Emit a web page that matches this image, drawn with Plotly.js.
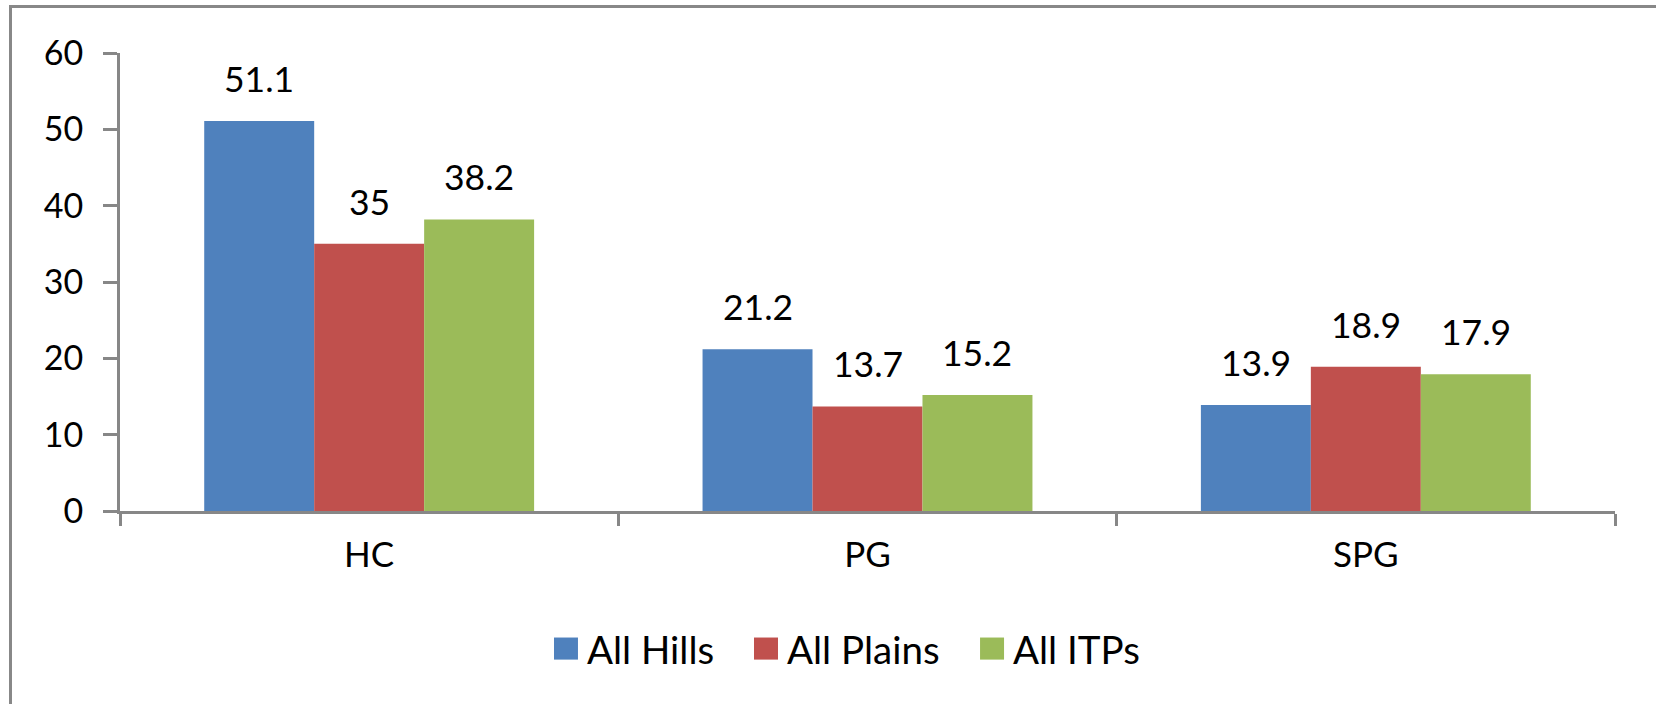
<!DOCTYPE html>
<html>
<head>
<meta charset="utf-8">
<script src="https://cdn.plot.ly/plotly-3.0.1.min.js"></script>
<style>
  html, body { margin: 0; padding: 0; background: #ffffff; overflow: hidden; }
  #wrap { position: relative; width: 1656px; height: 704px; }
  #chart { position: absolute; left: 0; top: 0; width: 1656px; height: 704px; }
  #frame { position: absolute; left: 9px; top: 5px; width: 1700px; height: 760px;
           border-left: 3px solid #888888; border-top: 3px solid #888888; pointer-events: none; }
</style>
</head>
<body>
<div id="wrap">
  <div id="chart"></div>
  <div id="frame"></div>
</div>
<script>
const categories = ["HC", "PG", "SPG"];
const seriesNames = ["All Hills", "All Plains", "All ITPs"];
const allHills = [51.1, 21.2, 13.9];
const allPlains = [35, 13.7, 18.9];
const allITPs = [38.2, 15.2, 17.9];
const yTicks = [0, 10, 20, 30, 40, 50, 60];

const colors = ["#4F81BD", "#C0504D", "#9BBB59"];
const seriesValues = [allHills, allPlains, allITPs];

const W = 1656, H = 704;
const margin = { l: 120, r: 41, t: 53, b: 193, pad: 0 };
const bargap = 0.338;
const plotW = W - margin.l - margin.r;
const barPx = plotW / categories.length * (1 - bargap) / seriesValues.length;

const FONT = "Lato, 'Open Sans', sans-serif";
const legendIds = ["legend", "legend2", "legend3"];
const legendX = [0.2856, 0.4194, 0.5706];

const traces = seriesValues.map((vals, i) => ({
  type: "bar",
  name: seriesNames[i],
  legend: legendIds[i],
  x: categories,
  y: vals,
  marker: { color: colors[i], line: { width: 0 } },
  hoverinfo: "none"
}));

const annotations = [];
seriesValues.forEach((vals, i) => {
  vals.forEach((v, j) => {
    annotations.push({
      x: categories[j], y: v, xref: "x", yref: "y",
      text: String(v), showarrow: false,
      xanchor: "center", yanchor: "bottom",
      xshift: (i - (seriesValues.length - 1) / 2) * barPx,
      yshift: 19,
      font: { family: FONT, size: 35.5, color: "#000000" }
    });
  });
});

const layout = {
  width: W, height: H,
  margin: margin,
  paper_bgcolor: "#ffffff",
  plot_bgcolor: "#ffffff",
  barmode: "group",
  bargap: bargap,
  bargroupgap: 0,
  showlegend: true,
  xaxis: {
    type: "category",
    showline: true, linecolor: "#878787", linewidth: 3,
    ticks: "outside", tickson: "boundaries", ticklen: 12, tickwidth: 3, tickcolor: "#878787",
    tickfont: { family: FONT, size: 35, color: "#000000" },
    ticklabelstandoff: 11,
    showgrid: false, zeroline: false,
    fixedrange: true
  },
  yaxis: {
    range: [0, 60],
    tickvals: yTicks,
    ticktext: yTicks.map(String),
    showline: true, linecolor: "#878787", linewidth: 3,
    ticks: "outside", ticklen: 14, tickwidth: 3, tickcolor: "#878787",
    tickfont: { family: FONT, size: 34, color: "#000000" },
    ticklabelstandoff: 13,
    showgrid: false, zeroline: false,
    fixedrange: true
  },
  annotations: annotations
};

legendIds.forEach((id, i) => {
  layout[id] = {
    orientation: "h",
    x: legendX[i], xanchor: "left",
    y: -0.3014, yanchor: "middle",
    font: { family: FONT, size: 38.5, color: "#000000" },
    bgcolor: "rgba(0,0,0,0)",
    itemclick: false
  };
});

Plotly.newPlot("chart", traces, layout, { staticPlot: true, displayModeBar: false }).then(() => {
  document.querySelectorAll("#chart .legendpoints path").forEach(p => {
    const t = p.getAttribute("transform") || "";
    p.setAttribute("transform", t + " translate(-1,0) scale(2,1.84)");
  });
});
</script>
</body>
</html>
